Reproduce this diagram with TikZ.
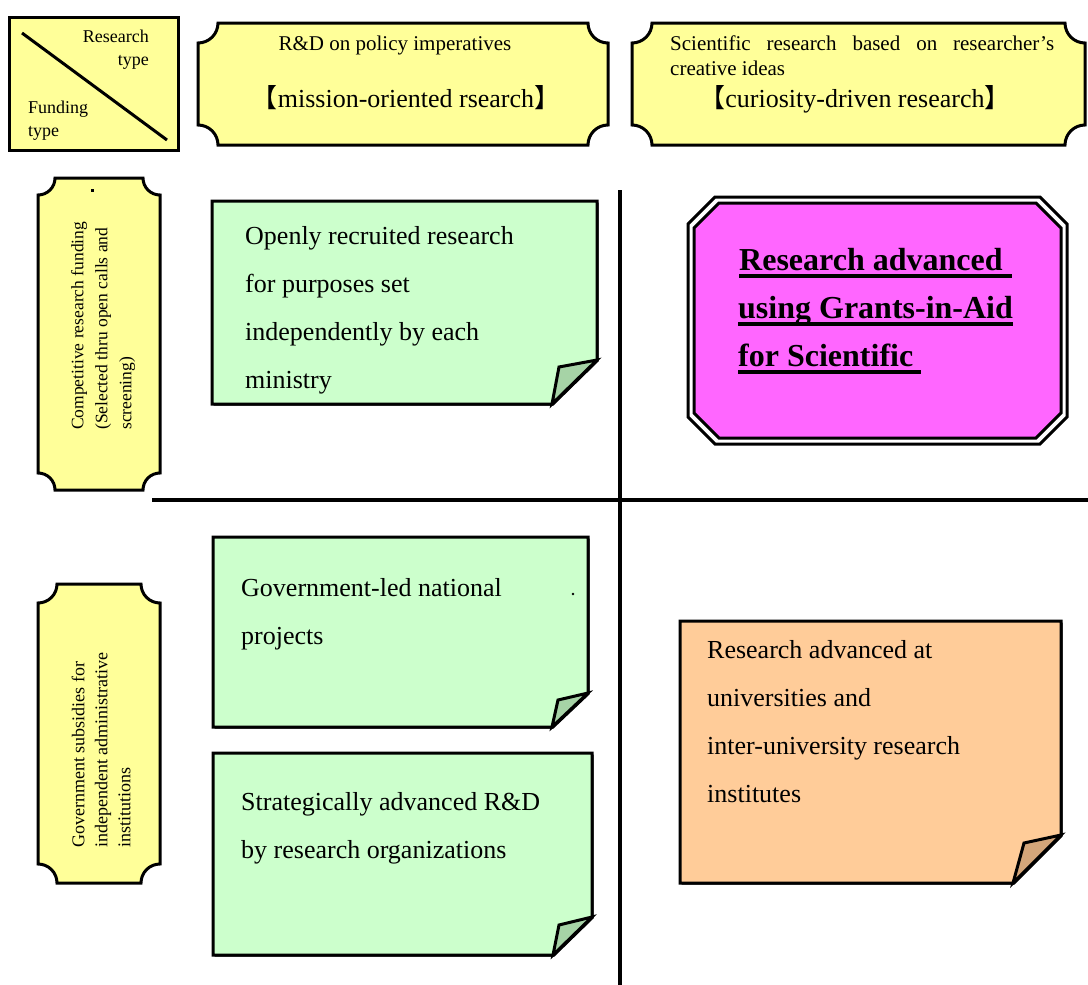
\documentclass[tikz,border=0pt]{standalone}
\usepackage{fontspec}
\setmainfont{Liberation Serif}
\newfontfamily\cjk{Noto Sans CJK JP}
\definecolor{yellowfill}{HTML}{FFFF99}
\definecolor{greenfill}{HTML}{CCFFCC}
\definecolor{greenflap}{HTML}{A6D3A6}
\definecolor{magfill}{HTML}{FF66FF}
\definecolor{orangefill}{HTML}{FFCC99}
\definecolor{orangeflap}{HTML}{D4A67A}
\newcommand\drawplaque[5]{%
  \filldraw[plaquebox] ({#1+#5},#2) -- ({#3-#5},#2)
    .. controls ({#3-#5},{#2+0.552*#5}) and ({#3-0.552*#5},{#2+#5}) .. (#3,{#2+#5})
    -- (#3,{#4-#5})
    .. controls ({#3-0.552*#5},{#4-#5}) and ({#3-#5},{#4-0.552*#5}) .. ({#3-#5},#4)
    -- ({#1+#5},#4)
    .. controls ({#1+#5},{#4-0.552*#5}) and ({#1+0.552*#5},{#4-#5}) .. (#1,{#4-#5})
    -- (#1,{#2+#5})
    .. controls ({#1+0.552*#5},{#2+#5}) and ({#1+#5},{#2+0.552*#5}) .. cycle;}
\tikzset{
  boxline/.style={draw=black, line width=3pt},
  plaquebox/.style={boxline, fill=yellowfill},
  divider/.style={draw=black, line width=4.5pt},
  notesh/.style={fill=black, shift={(1.5,1.5)}},
  bodytext/.style={font=\fontsize{26}{48}\selectfont, align=left, inner sep=0pt, anchor=west},
  headtext/.style={font=\fontsize{21}{25}\selectfont, inner sep=0pt},
  bigtext/.style={font=\fontsize{26}{30}\selectfont, inner sep=0pt, anchor=base},
  vtext/.style={rotate=90, anchor=west, align=left, inner sep=0pt},
  cornertext/.style={font=\fontsize{18}{23}\selectfont, inner sep=0pt},
  magtext/.style={font=\bfseries\fontsize{32}{38}\selectfont, inner sep=0pt, anchor=base west},
  uline/.style={draw=black, line width=3.5pt},
}
\begin{document}
\begin{tikzpicture}[x=1pt,y=-1pt]
\useasboundingbox (0,0) rectangle (1088,985);

% dividing lines
\draw[divider] (152,500) -- (1088,500);
\draw[divider] (620,190) -- (620,985);

% top-left corner box
\filldraw[boxline, fill=yellowfill] (9,17) rectangle (178,150);
\draw[black, line width=3pt] (22,33) -- (167,140);
\node[cornertext, align=right, anchor=east] (rtype) at (149,50) {Research\\type};
\node[cornertext, align=left, anchor=west] (ftype) at (28,121) {Funding\\type};

% header plaques
\drawplaque{198}{23}{608}{145}{20}
\node[headtext, anchor=base] (h1a) at (395,50) {R\&D on policy imperatives};
\node[bigtext] (h1b) at (406,107) {{\cjk 【}mission-oriented rsearch{\cjk 】}};

\drawplaque{632}{23}{1085}{145}{20}
\node[headtext, anchor=base west] (h2a) at (670,50) {\hbox to 384pt{Scientific\hfil research\hfil based\hfil on\hfil researcher's}};
\node[headtext, anchor=base west] (h2b) at (670,75) {creative ideas};
\node[bigtext] (h2c) at (855,107) {{\cjk 【}curiosity-driven research{\cjk 】}};

% left vertical plaques
\drawplaque{38}{178}{160}{490}{17}
\fill (91,189) rectangle (93.5,191.5);
\node[vtext, font=\fontsize{17.5}{24}\selectfont] (fund1) at (103,430)
  {Competitive research funding\\(Selected thru open calls and\\screening)};

\drawplaque{38}{584}{160}{883}{19}
\node[vtext, font=\fontsize{18}{23}\selectfont] (fund2) at (101,848)
  {Government subsidies for\\independent administrative\\institutions};

% green box 1
\fill[notesh] (212,201) -- (597,201) -- (597,360) -- (552,404) -- (212,404) -- cycle;
\filldraw[boxline, fill=greenfill] (212,201) -- (597,201) -- (597,360) -- (552,404) -- (212,404) -- cycle;
\filldraw[boxline, fill=greenflap] (597,360) -- (559,367) -- (552,404) -- cycle;
\node[bodytext] (g1) at (245,310) {Openly recruited research\\for purposes set\\independently by each\\ministry};

% magenta box
\filldraw[fill=white, line width=3pt] (715,197) -- (1040,197) -- (1067,224) -- (1067,417) -- (1040,444) -- (715,444) -- (688,417) -- (688,224) -- cycle;
\filldraw[fill=magfill, line width=3pt] (719,203) -- (1036,203) -- (1061,228) -- (1061,413) -- (1036,438) -- (719,438) -- (694,413) -- (694,228) -- cycle;
\node[magtext] (m1) at (739,270) {Research advanced\kern9pt};
\node[magtext] (m2) at (738,318) {using Grants-in-Aid};
\node[magtext] (m3) at (738,366) {for Scientific\kern8pt};
\draw[uline] ([yshift=-6pt]m1.base west) -- ([yshift=-6pt]m1.base east);
\draw[uline] ([yshift=-6pt]m2.base west) -- ([yshift=-6pt]m2.base east);
\draw[uline] ([yshift=-6pt]m3.base west) -- ([yshift=-6pt]m3.base east);

% green box 2
\fill[notesh] (213,537) -- (588,537) -- (588,693) -- (552,727) -- (213,727) -- cycle;
\filldraw[boxline, fill=greenfill] (213,537) -- (588,537) -- (588,693) -- (552,727) -- (213,727) -- cycle;
\filldraw[boxline, fill=greenflap] (588,693) -- (558,700) -- (552,727) -- cycle;
\node[bodytext] (g2) at (241,614) {Government-led national\\projects};
\fill (573,594) circle (1.3);

% green box 3
\fill[notesh] (213,753) -- (592,753) -- (592,917) -- (553,955) -- (213,955) -- cycle;
\filldraw[boxline, fill=greenfill] (213,753) -- (592,753) -- (592,917) -- (553,955) -- (213,955) -- cycle;
\filldraw[boxline, fill=greenflap] (592,917) -- (559,925) -- (553,955) -- cycle;
\node[bodytext] (g3) at (241,828) {Strategically advanced R\&D\\by research organizations};

% orange box
\fill[notesh] (680,621) -- (1061,621) -- (1061,835) -- (1013,883) -- (680,883) -- cycle;
\filldraw[boxline, fill=orangefill] (680,621) -- (1061,621) -- (1061,835) -- (1013,883) -- (680,883) -- cycle;
\filldraw[boxline, fill=orangeflap] (1061,835) -- (1024,843) -- (1013,883) -- cycle;
\node[bodytext] (o1) at (707,722) {Research advanced at\\universities and\\inter-university research\\institutes};
\end{tikzpicture}
\end{document}
